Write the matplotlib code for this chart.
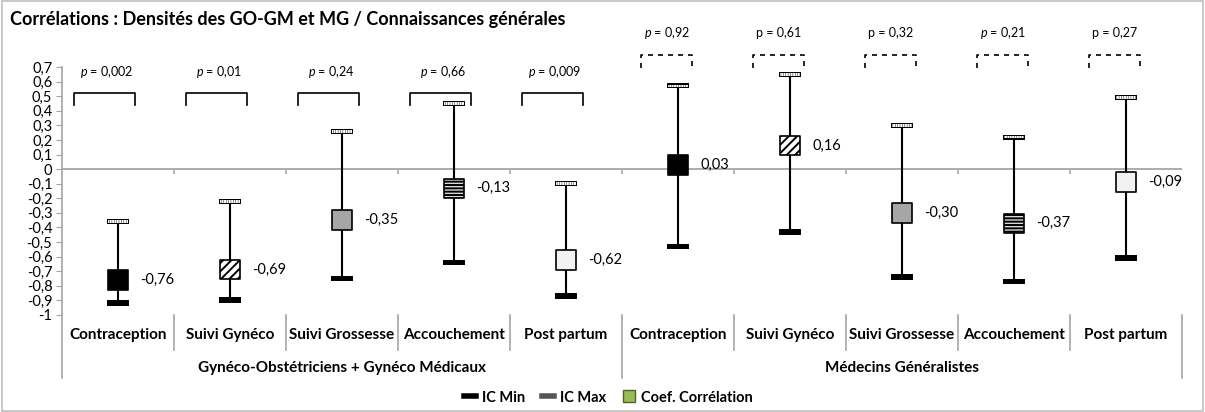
import numpy as np
import matplotlib
matplotlib.use("Agg")
import matplotlib.pyplot as plt
from matplotlib.lines import Line2D
from matplotlib.patches import Rectangle
import matplotlib.transforms as mtransforms

plt.rcParams['font.family'] = ['Lato', 'DejaVu Sans']
plt.rcParams['mathtext.fontset'] = 'custom'
plt.rcParams['mathtext.it'] = 'Lato:italic'
plt.rcParams['mathtext.rm'] = 'Lato'
plt.rcParams['hatch.linewidth'] = 1.4

# ==================================================
# DATA
# ==================================================

categories = ['Contraception', 'Suivi Gynéco', 'Suivi Grossesse', 'Accouchement', 'Post partum',
              'Contraception', 'Suivi Gynéco', 'Suivi Grossesse', 'Accouchement', 'Post partum']
groups = ['Gynéco-Obstétriciens + Gynéco Médicaux', 'Médecins Généralistes']

coef = [-0.76, -0.69, -0.35, -0.13, -0.62, 0.03, 0.16, -0.30, -0.37, -0.09]
ic_min = [-0.92, -0.90, -0.75, -0.64, -0.87, -0.53, -0.43, -0.74, -0.77, -0.61]
ic_max = [-0.36, -0.22, 0.26, 0.45, -0.10, 0.57, 0.65, 0.30, 0.22, 0.49]

p_values = ['0,002', '0,01', '0,24', '0,66', '0,009', '0,92', '0,61', '0,32', '0,21', '0,27']
p_italic = [True, True, True, True, True, True, False, False, True, False]

coef_labels = ['-0,76', '-0,69', '-0,35', '-0,13', '-0,62', '0,03', '0,16', '-0,30', '-0,37', '-0,09']

# marker style per theme (repeats for both groups)
face = ['black', 'white', '#a6a6a6', '#d9d9d9', '#f2f2f2']
hatch = [None, '////', None, '-----', None]

# ==================================================
# FIGURE
# ==================================================

fig = plt.figure(figsize=(12.05, 4.12), dpi=100)
fig.patches.append(Rectangle((0.002, 0.003), 0.996, 0.994, transform=fig.transFigure,
                             fill=False, edgecolor='#bfbfbf', lw=1.2))

ax = fig.add_axes([62 / 1205, 97 / 412, 1120 / 1205, 248 / 412])
x = np.arange(len(categories))
ax.set_xlim(-0.5, len(categories) - 0.5)
ax.set_ylim(-1, 0.7)

axis_gray = '#a6a6a6'

# zero line with small ticks at category boundaries
ax.axhline(0, color=axis_gray, lw=1.3, zorder=1)
ax.vlines(np.arange(0.5, len(categories) - 0.5), -0.035, 0, color=axis_gray, lw=1.2, zorder=1)

# error bars
ax.vlines(x, ic_min, ic_max, color='black', lw=1.5, zorder=2)

# IC Min markers (black bar)
ax.bar(x, 0.04, bottom=np.array(ic_min) - 0.02, width=0.2, color='black', zorder=3)
# IC Max markers (black bar with white stripes)
ax.bar(x, 0.034, bottom=np.array(ic_max) - 0.017, width=0.2, color='black', zorder=3)
ax.bar(x, 0.018, bottom=np.array(ic_max) - 0.009, width=0.17, facecolor='none',
       edgecolor='white', hatch='|||||||', lw=0, zorder=4)

# correlation squares + labels
for i in range(len(categories)):
    k = i % 5
    ax.scatter(x[i], coef[i], marker='s', s=190, facecolor=face[k], edgecolor='black',
               hatch=hatch[k], linewidths=1.2, zorder=5)
    ax.text(x[i] + 0.2, coef[i], coef_labels[i], ha='left', va='center', fontsize=10.5, zorder=6)

# p-value brackets and texts
for i in range(len(categories)):
    if i < 5:
        top, leg, left, right, ls, py = 0.52, 0.44, -0.39, 0.15, '-', 0.665
    else:
        top, leg, left, right, ls, py = 0.78, 0.69, -0.33, 0.125, (0, (3, 3)), 0.93
    ax.plot([x[i] + left, x[i] + left, x[i] + right, x[i] + right], [leg, top, top, leg],
            color='black', lw=1.2, ls=ls, clip_on=False)
    ptxt = ('$p$' if p_italic[i] else 'p') + ' = ' + p_values[i]
    ax.text(x[i] - 0.1, py, ptxt, ha='center', va='center', fontsize=9, clip_on=False)

# ==================================================
# AXES STYLE
# ==================================================

for s in ['top', 'right', 'bottom']:
    ax.spines[s].set_visible(False)
ax.spines['left'].set_color(axis_gray)
ax.spines['left'].set_linewidth(1.2)

yt = np.round(np.arange(-1, 0.71, 0.1), 1)
ax.set_yticks(yt)
ax.set_yticklabels(['0' if v == 0 else ('%g' % v).replace('.', ',') for v in yt], fontsize=10.5)
ax.tick_params(axis='y', length=4, color=axis_gray, pad=3)
ax.set_xticks([])

# category labels, separators, group labels below the axis
trans = mtransforms.blended_transform_factory(ax.transData, ax.transAxes)
for i, c in enumerate(categories):
    ax.text(x[i], -0.08, c, transform=trans, ha='center', va='center',
            fontsize=11, fontweight='bold')
for b in np.arange(-0.5, len(categories)):
    bottom = -0.254 if b in (-0.5, 4.5, 9.5) else -0.14
    ax.add_line(Line2D([b, b], [0, bottom], transform=trans, color=axis_gray, lw=1.2, clip_on=False))
for g, gname in enumerate(groups):
    ax.text(2 + 5 * g, -0.213, gname, transform=trans, ha='center', va='center',
            fontsize=11, fontweight='bold')

# title
fig.text(10 / 1205, 1 - 20 / 412, 'Corrélations : Densités des GO-GM et MG / Connaissances générales',
         ha='left', va='center', fontsize=13, fontweight='bold')

# legend
handles = [
    Line2D([], [], color='black', lw=4),
    Line2D([], [], color='#555555', lw=4),
    Line2D([], [], marker='s', ls='none', markersize=8, markerfacecolor='#9bbb59',
           markeredgecolor='#4f6228'),
]
fig.legend(handles, ['IC Min', 'IC Max', 'Coef. Corrélation'], ncol=3, loc='center',
           bbox_to_anchor=(0.505, 0.035), frameon=False, handlelength=0.8, handletextpad=0.4,
           columnspacing=1.2, prop={'weight': 'bold', 'size': 10.5})

fig.savefig('out.png', dpi=100)
